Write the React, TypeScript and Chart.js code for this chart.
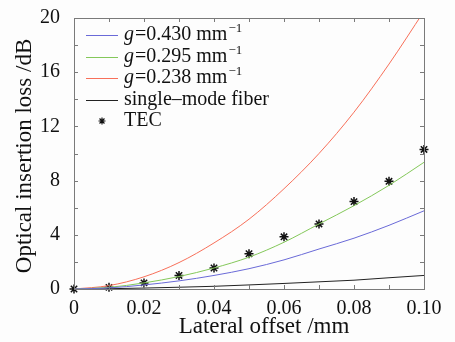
import React, { useEffect, useRef } from "react";
import { Chart, registerables } from "chart.js";

Chart.register(...registerables);

const offsets = [0, 0.01, 0.02, 0.03, 0.04, 0.05, 0.06, 0.07, 0.08, 0.09, 0.1];
const g430 = [0, 0.08, 0.3, 0.6, 1.0, 1.5, 2.15, 2.95, 3.75, 4.7, 5.77];
const g295 = [0, 0.12, 0.45, 0.92, 1.55, 2.35, 3.45, 4.8, 6.15, 7.65, 9.35];
const g238 = [0, 0.25, 0.9, 1.95, 3.4, 5.15, 7.4, 10.0, 13.05, 16.6, 20.5];
const smf = [0, 0.02, 0.07, 0.13, 0.2, 0.3, 0.41, 0.53, 0.65, 0.83, 1.0];
const tec = [0, 0.12, 0.45, 1.0, 1.55, 2.6, 3.85, 4.8, 6.45, 7.95, 10.3];

const legendItems = [
  { g: "0.430", color: "#6a6ad8" },
  { g: "0.295", color: "#84c85a" },
  { g: "0.238", color: "#f8705a" },
];

const FONT = "'Liberation Serif', 'Times New Roman', serif";

const frameAndLegend = {
  id: "frameAndLegend",
  beforeDraw(chart: any) {
    const ctx = chart.ctx;
    ctx.save();
    ctx.fillStyle = "#fdfdfd";
    ctx.fillRect(0, 0, chart.width, chart.height);
    ctx.restore();
  },
  afterDraw(chart: any) {
    const ctx = chart.ctx;
    const a = chart.chartArea;
    const xs = chart.scales.x;
    const ys = chart.scales.y;
    ctx.save();
    ctx.strokeStyle = "#7a7a7a";
    ctx.lineWidth = 1;
    ctx.strokeRect(a.left + 0.5, a.top + 0.5, a.right - a.left, a.bottom - a.top);
    const tl = 4;
    ctx.beginPath();
    xs.ticks.forEach((t: any) => {
      const px = Math.round(xs.getPixelForValue(t.value)) + 0.5;
      ctx.moveTo(px, a.bottom);
      ctx.lineTo(px, a.bottom - tl);
      ctx.moveTo(px, a.top);
      ctx.lineTo(px, a.top + tl);
    });
    ys.ticks.forEach((t: any) => {
      const py = Math.round(ys.getPixelForValue(t.value)) + 0.5;
      ctx.moveTo(a.left, py);
      ctx.lineTo(a.left + tl, py);
      ctx.moveTo(a.right, py);
      ctx.lineTo(a.right - tl, py);
    });
    ctx.stroke();

    // axis titles
    ctx.fillStyle = "#111";
    ctx.font = `23px ${FONT}`;
    ctx.textAlign = "center";
    ctx.textBaseline = "middle";
    ctx.fillText("Lateral offset /mm", 264, 327);
    ctx.save();
    ctx.translate(25, 156);
    ctx.rotate(-Math.PI / 2);
    ctx.fillText("Optical insertion loss /dB", 0, 0);
    ctx.restore();

    // legend
    const rowY = [35, 57, 78, 100, 121];
    const lx0 = 86, lx1 = 118, tx = 124;
    ctx.textAlign = "left";
    ctx.textBaseline = "middle";
    legendItems.forEach((it, i) => {
      const y = rowY[i];
      ctx.strokeStyle = it.color;
      ctx.lineWidth = 1;
      ctx.beginPath();
      ctx.moveTo(lx0, y + 0.5);
      ctx.lineTo(lx1, y + 0.5);
      ctx.stroke();
      let x = tx;
      ctx.font = `italic 20px ${FONT}`;
      ctx.fillText("g", x, y);
      x += ctx.measureText("g").width + 1;
      ctx.font = `20px ${FONT}`;
      const s = `=${it.g} mm`;
      ctx.fillText(s, x, y);
      x += ctx.measureText(s).width + 1;
      ctx.font = `13px ${FONT}`;
      ctx.fillText("\u22121", x, y - 6);
    });
    ctx.strokeStyle = "#222";
    ctx.beginPath();
    ctx.moveTo(lx0, rowY[3] + 0.5);
    ctx.lineTo(lx1, rowY[3] + 0.5);
    ctx.stroke();
    ctx.font = `20px ${FONT}`;
    ctx.fillText("single\u2013mode fiber", tx, rowY[3]);
    // TEC marker
    const mx = 102, my = rowY[4];
    ctx.strokeStyle = "#111";
    ctx.lineWidth = 1.2;
    ctx.beginPath();
    for (let k = 0; k < 4; k++) {
      const ang = (k * Math.PI) / 4;
      ctx.moveTo(mx - 3.5 * Math.cos(ang), my - 3.5 * Math.sin(ang));
      ctx.lineTo(mx + 3.5 * Math.cos(ang), my + 3.5 * Math.sin(ang));
    }
    ctx.stroke();
    ctx.fillText("TEC", tx, rowY[4]);
    ctx.restore();
  },
};

export default function App() {
  const ref = useRef<HTMLCanvasElement>(null);
  useEffect(() => {
    if (!ref.current) return;
    const line = (data: number[], color: string, tension: number) => ({
      data: offsets.map((x, i) => ({ x, y: data[i] })),
      borderColor: color,
      borderWidth: 1,
      pointRadius: 0,
      tension,
      cubicInterpolationMode: tension > 0 ? "monotone" : "default",
      fill: false,
    });
    const chart = new Chart(ref.current, {
      type: "line",
      data: {
        datasets: [
          line(g430, legendItems[0].color, 0.4) as any,
          line(g295, legendItems[1].color, 0.4) as any,
          line(g238, legendItems[2].color, 0.4) as any,
          line(smf, "#222", 0) as any,
          {
            data: offsets.map((x, i) => ({ x, y: tec[i] })),
            showLine: false,
            pointStyle: "star",
            pointRadius: 4.5,
            pointBorderColor: "#111",
            pointBackgroundColor: "#111",
            pointBorderWidth: 1.5,
            clip: false,
          } as any,
        ],
      },
      options: {
        responsive: false,
        animation: false,
        layout: { padding: { top: 13, right: 31, left: 0, bottom: 0 } },
        plugins: { legend: { display: false }, tooltip: { enabled: false } },
        scales: {
          x: {
            type: "linear",
            min: 0,
            max: 0.1,
            grid: { display: false },
            border: { display: false },
            afterFit: (s: any) => { s.height = 53; },
            afterBuildTicks: (s: any) => {
              s.ticks = offsets.map((v) => ({ value: v }));
            },
            ticks: {
              padding: 0,
              color: "#111",
              font: { family: FONT, size: 20 },
              maxRotation: 0,
              autoSkip: false,
              callback: (v: any) => {
                const r = Math.round(Number(v) * 100);
                if (r % 2 !== 0) return "";
                return r === 0 ? "0" : (r / 100).toFixed(2);
              },
            },
          },
          y: {
            min: 0,
            max: 20,
            grid: { display: false },
            border: { display: false },
            afterFit: (s: any) => { s.width = 74; },
            ticks: {
              stepSize: 2,
              padding: 6,
              color: "#111",
              font: { family: FONT, size: 20 },
              autoSkip: false,
              callback: (v: any) => (Number(v) % 4 === 0 ? String(v) : ""),
            },
          },
        },
      },
      plugins: [frameAndLegend],
    });
    return () => chart.destroy();
  }, []);
  return (
    <div style={{ position: "fixed", left: 0, top: 0, width: 455, height: 342 }}>
      <canvas ref={ref} width={455} height={342} />
    </div>
  );
}
